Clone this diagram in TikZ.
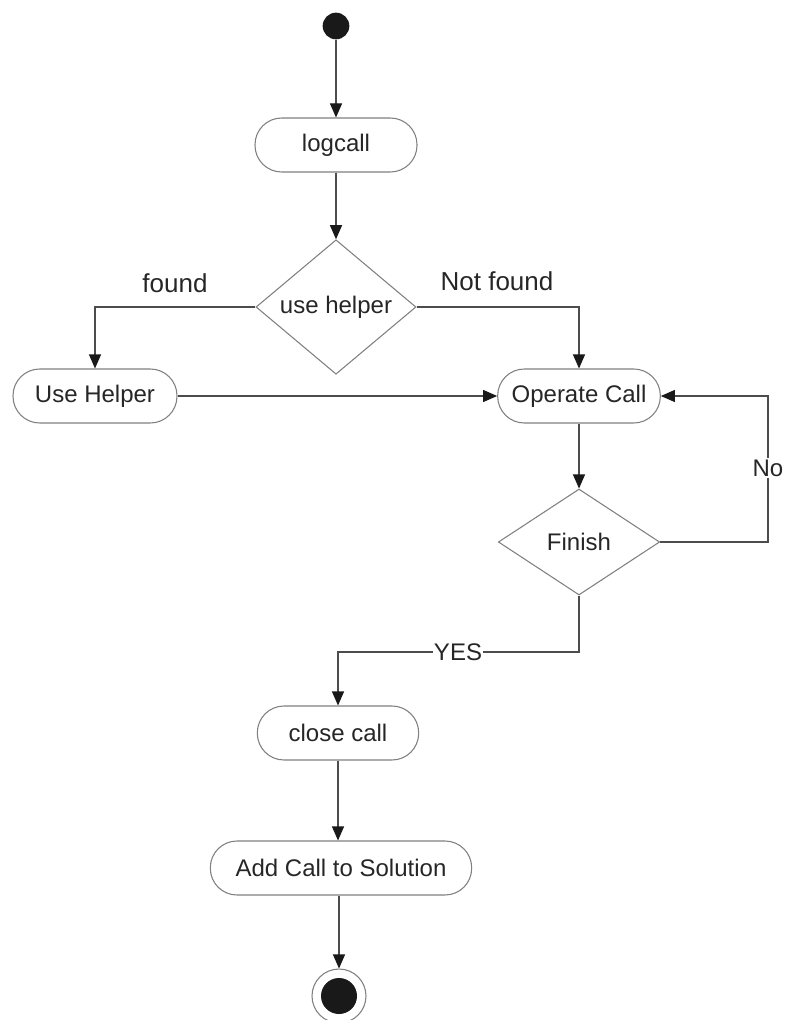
\documentclass[tikz,border=0pt]{standalone}
\usepackage{fontspec}
\setmainfont{Liberation Sans}
\usetikzlibrary{arrows.meta,shapes.geometric}
\begin{document}
\begin{tikzpicture}[x=0.75pt,y=-0.75pt,
  activity/.style={draw=black!50, line width=0.8pt, rounded corners=20pt,
    minimum height=40.5pt, inner sep=0pt, text=black!85,
    font=\fontsize{18}{22}\selectfont},
  decision/.style={diamond, draw=black!50, line width=0.8pt, inner sep=0pt,
    minimum width=120pt, minimum height=80pt, text=black!85,
    font=\fontsize{18}{22}\selectfont},
  flow/.style={draw=black!70, line width=0.8pt,
    -{Triangle[length=10.5pt,width=9pt,color=black!90]}},
  guard/.style={text=black!85, inner sep=1pt, font=\fontsize{19.5}{23}\selectfont},
  guardon/.style={fill=white, text=black!85, inner sep=1pt,
    font=\fontsize{18}{22}\selectfont}]
\useasboundingbox (0,0) rectangle (787,1020);

% nodes
\node[circle, fill=black!90, minimum size=20pt, inner sep=0pt] (start) at (336,26) {};
\node[activity, minimum width=121.5pt] (logcall) at (336,145) {logcall};
\node[decision] (uh) at (336,307) {use helper};
\node[activity, minimum width=123pt] (usehelper) at (95,396) {Use Helper};
\node[activity, minimum width=122pt] (opcall) at (579,396) {Operate Call};
\node[decision, minimum width=121pt, minimum height=79.5pt] (finish) at (579,542) {Finish};
\node[activity, minimum width=121pt] (closecall) at (338,733) {close call};
\node[activity, minimum width=196pt] (addcall) at (341,868) {Add Call to Solution};
\node[circle, draw=black!50, line width=0.8pt, fill=white, minimum size=40.5pt, inner sep=0pt] (end) at (339,996) {};
\node[circle, fill=black!90, minimum size=27pt, inner sep=0pt] (endin) at (end.center) {};

% bend points
\coordinate (noturn) at (768,542);
\coordinate (yesturn) at (579,652);

% connectors
\draw[flow] (start) -- (logcall);
\draw[flow] (logcall) -- (uh);
\draw[flow] (uh.west) -| (usehelper.north);
\draw[flow] (uh.east) -| (opcall.north);
\draw[flow] (usehelper.east) -- (opcall.west);
\draw[flow] (opcall) -- (finish);
\draw[flow] (finish.east) -- (noturn) |- (opcall.east);
\draw[flow] (finish.south) -- (yesturn) -| (closecall.north);
\draw[flow] (closecall.south) -- (closecall.south |- addcall.north);
\draw[flow] (end.north |- addcall.south) -- (end.north);

% guard labels
\node[guard] (lfound) at (175,283) {found};
\node[guard] (lnotfound) at (497,281) {Not found};
\node[guardon] (lno) at (768,468) {No};
\node[guardon] (lyes) at (458,652) {YES};
\end{tikzpicture}
\end{document}
